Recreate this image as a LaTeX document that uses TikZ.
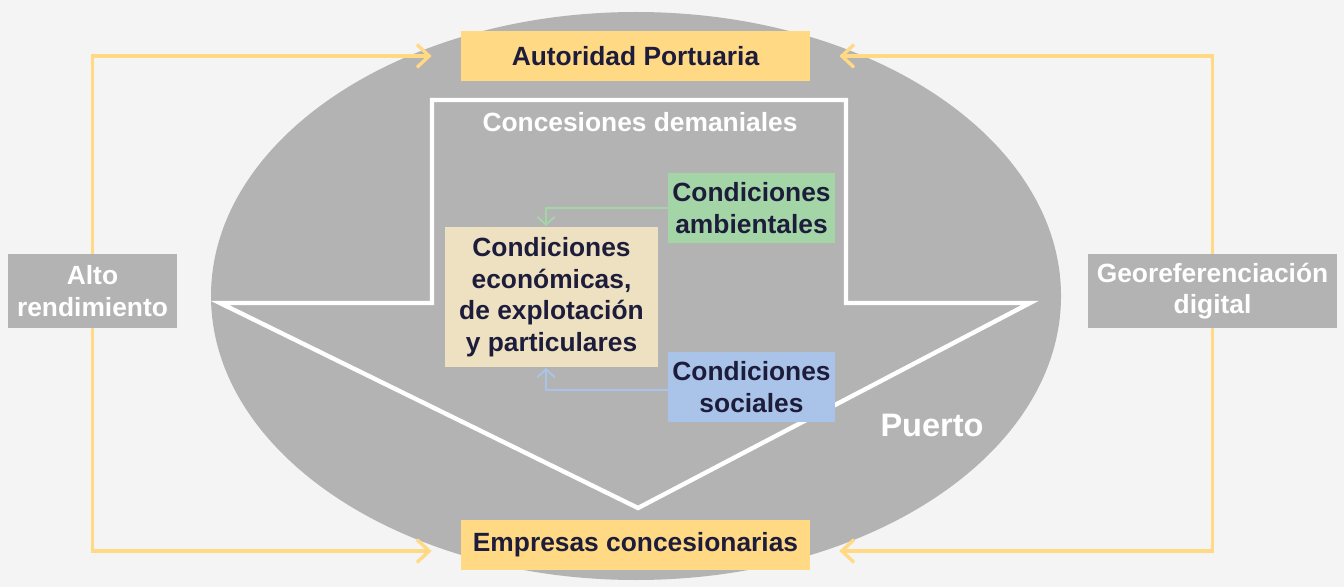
\documentclass[tikz,border=0pt]{standalone}
\usepackage{fontspec}
\setmainfont{Liberation Sans}
\usetikzlibrary{arrows.meta}
\definecolor{portbg}{HTML}{F4F4F4}
\definecolor{portgray}{HTML}{B3B3B3}
\definecolor{portink}{HTML}{1D1D3B}
\definecolor{portyellow}{HTML}{FFD983}
\definecolor{portcream}{HTML}{EDE1C1}
\definecolor{portgreen}{HTML}{A4D5A6}
\definecolor{portblue}{HTML}{A9C3E9}

\begin{document}
\begin{tikzpicture}[x=0.02cm,y=-0.02cm,
  actor/.style={rectangle, fill=portyellow, text=portink, font=\fontsize{15}{18}\selectfont\bfseries, minimum width=6.98cm, minimum height=1cm, inner sep=0pt},
  side/.style={rectangle, fill=portgray, text=white, font=\fontsize{15}{18}\selectfont\bfseries, minimum height=1.48cm, inner sep=0pt, align=center},
  cond/.style={rectangle, text=portink, font=\fontsize{15}{18}\selectfont\bfseries, minimum width=3.34cm, minimum height=1.4cm, inner sep=0pt, align=center},
  label/.style={text=white, font=\fontsize{15}{18}\selectfont\bfseries},
  loop/.style={draw=portyellow, line width=1.9pt, -{Straight Barb[length=7pt,width=13pt,line width=1.9pt]}, shorten >=0.58cm},
  link/.style={line width=1.1pt, -{Straight Barb[length=4.5pt,width=10pt,line width=1.1pt]}}]
\useasboundingbox (0,0) rectangle (1344,587);
\fill[portbg] (0,0) rectangle (1344,587);
\fill[portgray] (636,296) ellipse [x radius=425, y radius=284];
% concession arrow
\draw[white, line width=2.5pt, line join=miter]
  (432,100) -- (846,100) -- (846,303) -- (1030,303) -- (638,508) -- (220,303) -- (432,303) -- cycle;
\node[actor] (autoridad) at (635.5,56) {Autoridad Portuaria};
\node[actor] (empresas) at (635.5,545) {Empresas concesionarias};
\node[side, minimum width=3.38cm] (alto) at (92.5,291) {Alto\\rendimiento};
\node[side, minimum width=4.98cm] (geo) at (1212.5,291) {Georeferenciación\\digital};
\node[label] (demaniales) at (640,122) {Concesiones demaniales};
\node[label, font=\fontsize{18.5}{20}\selectfont\bfseries] (puerto) at (932,425) {Puerto};
\node[cond, fill=portcream, minimum width=4.26cm, minimum height=2.8cm] (economicas) at (551.5,297) {Condiciones\\económicas,\\de explotación\\y particulares};
\node[cond, fill=portgreen] (ambientales) at (751.5,208) {Condiciones\\ambientales};
\node[cond, fill=portblue] (sociales) at (751.5,387) {Condiciones\\sociales};
\coordinate (econtop) at (546,226);
\coordinate (econbot) at (546,368);
% loops
\draw[loop] (alto.north) |- (autoridad.west);
\draw[loop] (alto.south) |- ([yshift=-0.12cm]empresas.west);
\draw[loop] (geo.north) |- (autoridad.east);
\draw[loop] (geo.south) |- ([yshift=-0.12cm]empresas.east);
% conditions
\draw[link, portgreen] (ambientales.west) -| (econtop);
\draw[link, portblue] ([yshift=-0.06cm]sociales.west) -| (econbot);
\end{tikzpicture}
\end{document}
